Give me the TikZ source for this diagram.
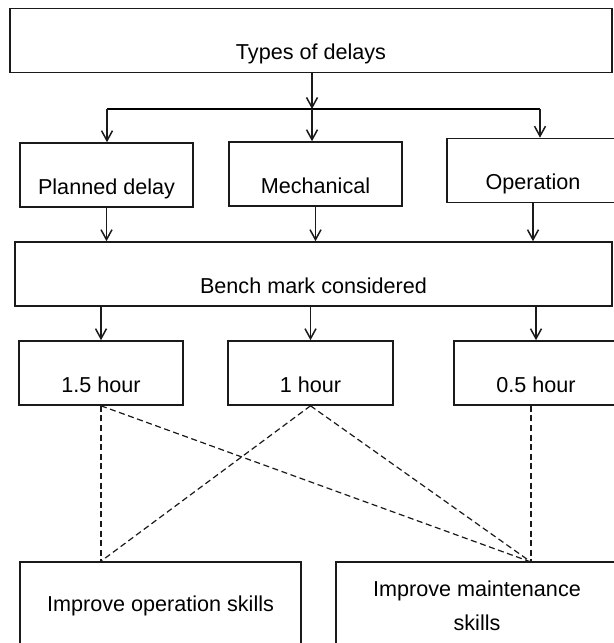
\documentclass[tikz,border=0pt]{standalone}
\usepackage{fontspec}
\setmainfont{Liberation Sans}
\usetikzlibrary{arrows.meta, positioning, calc}
\definecolor{cline}{HTML}{1A1A1A}
\tikzset{
  every picture/.style={line width=0.8pt},
  box/.style={draw=cline, rectangle, inner sep=2pt, font=\fontsize{10.8}{17}\selectfont,
    text height=21.7pt, text depth=2.7pt, minimum height=32pt},
  tallbox/.style={draw=cline, rectangle, inner sep=2pt, align=center,
    font=\fontsize{10.8}{17}\selectfont, minimum height=44pt},
  arrow/.style={-{Straight Barb[length=5pt, width=5.5pt]}, draw=cline, line width=0.75pt},
  link/.style={draw=cline, dashed, dash pattern=on 3pt off 1.8pt, line width=0.6pt},
}

\begin{document}
\begin{tikzpicture}[x=0.5pt, y=-0.5pt]
  \fill[white] (0,0) rectangle (614,643);
  \useasboundingbox (0,0) rectangle (614,643);

  \node[box, minimum width=301pt] (types) at (311,40.5) {Types of delays};
  \node[box, minimum width=86.5pt] (planned) at (106.5,175) {Planned delay};
  \node[box, minimum width=86.5pt] (mech) at (315.5,174) {Mechanical};
  \node[box, minimum width=86pt] (oper) at (533,170.5) {Operation};
  \node[box, minimum width=298.5pt] (bench) at (313.5,274) {Bench mark considered};
  \node[box, minimum width=82pt] (hA) at (101,373) {1.5 hour};
  \node[box, minimum width=82.5pt] (hB) at (310.5,373) {1 hour};
  \node[box, minimum width=82pt] (hC) at (536,373) {0.5 hour};
  \node[tallbox, minimum width=140.5pt] (opskill) at (160.5,606) {Improve operation skills};
  \node[tallbox, minimum width=141pt] (mtskill) at (477,606) {Improve maintenance\\skills};

  \coordinate (split) at (312,109);
  \coordinate (bl) at (107,109);
  \coordinate (br) at (540,109);
  \draw[arrow] (types.south -| split) -- (split);
  \draw (bl) -- (br);
  \draw[arrow] (bl) -- (bl |- planned.north);
  \draw[arrow] (split) -- (split |- mech.north);
  \draw[arrow] (br) -- (br |- oper.north);

  \foreach \b in {planned, mech, oper}
    \draw[arrow] (\b.south) -- (\b.south |- bench.north);
  \foreach \h in {hA, hB, hC}
    \draw[arrow] (bench.south -| \h) -- (\h.north);

  \coordinate (opin) at (opskill.north -| hA.south);
  \coordinate (mtin) at (531,562);
  \draw[link] (hA.south) -- (opin);
  \draw[link] (hA.south) -- (mtin);
  \draw[link] (hB.south) -- (opin);
  \draw[link] (hB.south) -- (mtin);
  \draw[link] (hC.south -| mtin) -- (mtin);
\end{tikzpicture}
\end{document}
